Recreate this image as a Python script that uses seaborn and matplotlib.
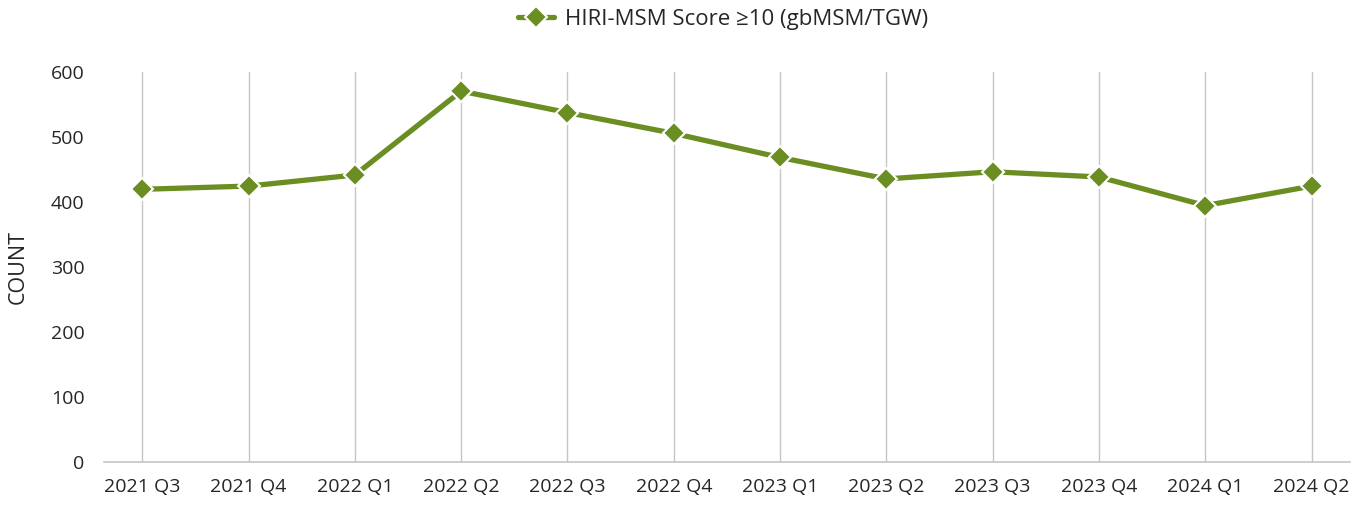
import pandas as pd
import matplotlib
matplotlib.use('Agg')
import matplotlib.pyplot as plt
import seaborn as sns

# --- Data ---------------------------------------------------------------------
quarters = ['2021 Q3', '2021 Q4', '2022 Q1', '2022 Q2', '2022 Q3', '2022 Q4',
            '2023 Q1', '2023 Q2', '2023 Q3', '2023 Q4', '2024 Q1', '2024 Q2']
counts = [419, 424, 441, 570, 537, 505, 468, 435, 446, 438, 394, 424]
series_name = 'HIRI-MSM Score \u226510 (gbMSM/TGW)'

df = pd.DataFrame({'Quarter': quarters, 'Count': counts, 'Series': series_name})

# --- Style ----------------------------------------------------------------------
sns.set_theme(style='white')
plt.rcParams['font.family'] = ['Open Sans', 'DejaVu Sans']
GREEN = '#6B8E23'
GRID = '#C6C6C6'
TEXT = '#262626'

fig = plt.figure(figsize=(13.69, 5.08), dpi=100)
ax = fig.add_axes([0.076, 0.091, 0.910, 0.768])

sns.lineplot(data=df, x='Quarter', y='Count', hue='Series', palette=[GREEN],
             sort=False, marker='D', markersize=11, markeredgecolor='white',
             markeredgewidth=1.5, linewidth=3.8, ax=ax)

ax.set_ylim(0, 600)
ax.set_xlim(-0.36, len(quarters) - 0.64)
ax.set_yticks(range(0, 601, 100))
ax.grid(axis='x', color=GRID, linewidth=1)
ax.grid(axis='y', visible=False)
ax.set_axisbelow(True)
for side in ['top', 'right', 'left']:
    ax.spines[side].set_visible(False)
ax.spines['bottom'].set_color(GRID)
ax.spines['bottom'].set_linewidth(1.2)
ax.tick_params(axis='both', length=0, labelsize=14, colors=TEXT)
ax.tick_params(axis='x', pad=12)
ax.tick_params(axis='y', pad=14)
ax.set_xlabel('')
ax.set_ylabel('COUNT', fontsize=15.5, color=TEXT, labelpad=16)

leg = ax.legend(loc='lower center', bbox_to_anchor=(0.497, 1.055), frameon=False,
                fontsize=16, handlelength=1.6, handletextpad=0.5)
for t in leg.get_texts():
    t.set_color(TEXT)

fig.savefig('out.png', dpi=100)
